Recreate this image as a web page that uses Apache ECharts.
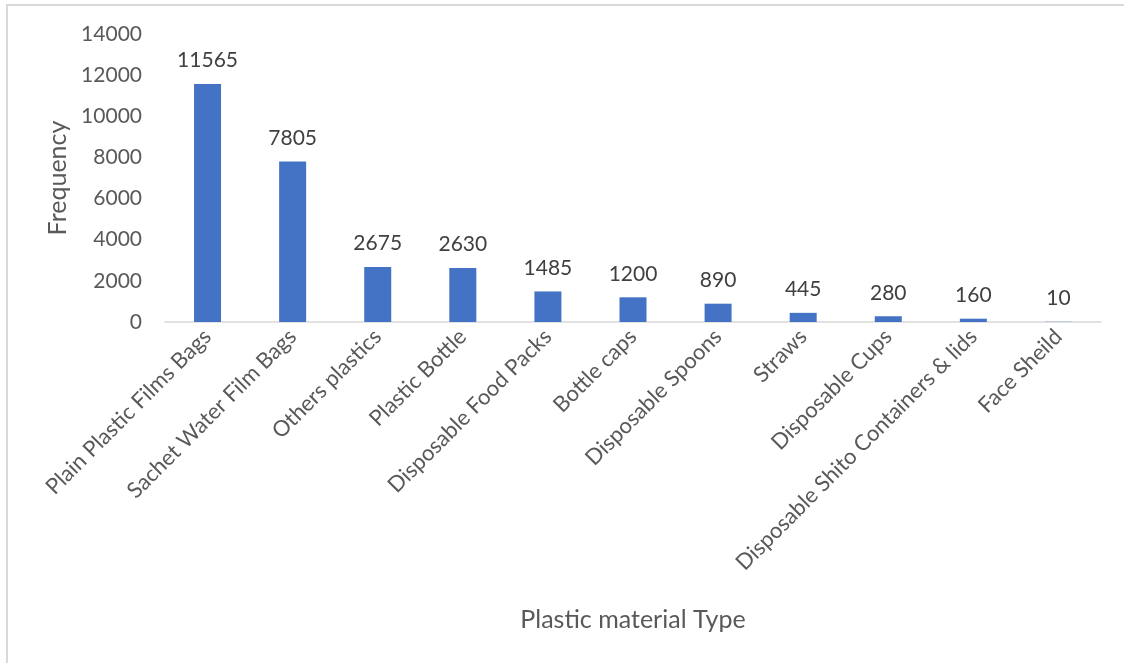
<!DOCTYPE html>
<html>
<head>
<meta charset="utf-8">
<script src="https://cdn.jsdelivr.net/npm/echarts@6/dist/echarts.min.js"></script>
<style>
  html, body { margin: 0; padding: 0; background: #fff; }
  #chart { width: 1124px; height: 663px; }
</style>
</head>
<body>
<div id="chart"></div>
<script>
const categories = [
  'Plain Plastic Films Bags',
  'Sachet Water Film Bags',
  'Others plastics',
  'Plastic Bottle',
  'Disposable Food Packs',
  'Bottle caps',
  'Disposable Spoons',
  'Straws',
  'Disposable Cups',
  'Disposable Shito Containers & lids',
  'Face Sheild'
];
const frequency = [11565, 7805, 2675, 2630, 1485, 1200, 890, 445, 280, 160, 10];

const font = 'Lato, "Open Sans", sans-serif';

const chart = echarts.init(document.getElementById('chart'));
chart.setOption({
  animation: false,
  backgroundColor: '#fff',
  textStyle: { fontFamily: font },
  graphic: [
    {
      type: 'rect',
      shape: { x: 7, y: 5, width: 1200, height: 700 },
      style: { fill: 'none', stroke: '#d9d9d9', lineWidth: 2 },
      silent: true
    }
  ],
  grid: {
    left: 165,
    right: 23,
    top: 34,
    bottom: 341
  },
  xAxis: {
    type: 'category',
    data: categories,
    name: 'Plastic material Type',
    nameLocation: 'middle',
    nameGap: 285,
    nameTextStyle: { color: '#595959', fontSize: 25, fontFamily: font },
    axisLine: { lineStyle: { color: '#d9d9d9', width: 1.5 } },
    axisTick: { show: false },
    axisLabel: {
      interval: 0,
      rotate: 45,
      margin: 11,
      color: '#595959',
      fontSize: 22,
      fontFamily: font
    }
  },
  yAxis: {
    type: 'value',
    min: 0,
    max: 14000,
    interval: 2000,
    name: 'Frequency',
    nameLocation: 'middle',
    nameGap: 90,
    nameTextStyle: { color: '#595959', fontSize: 25, fontFamily: font },
    axisLine: { show: false },
    axisTick: { show: false },
    splitLine: { show: false },
    axisLabel: {
      margin: 23,
      color: '#595959',
      fontSize: 21,
      fontFamily: font,
      formatter: (v) => String(v)
    }
  },
  series: [
    {
      type: 'bar',
      data: frequency,
      barWidth: 27,
      itemStyle: { color: '#4472c4' },
      label: {
        show: true,
        position: 'top',
        distance: 13,
        color: '#404040',
        fontSize: 21,
        fontFamily: font
      }
    }
  ]
});
</script>
</body>
</html>
